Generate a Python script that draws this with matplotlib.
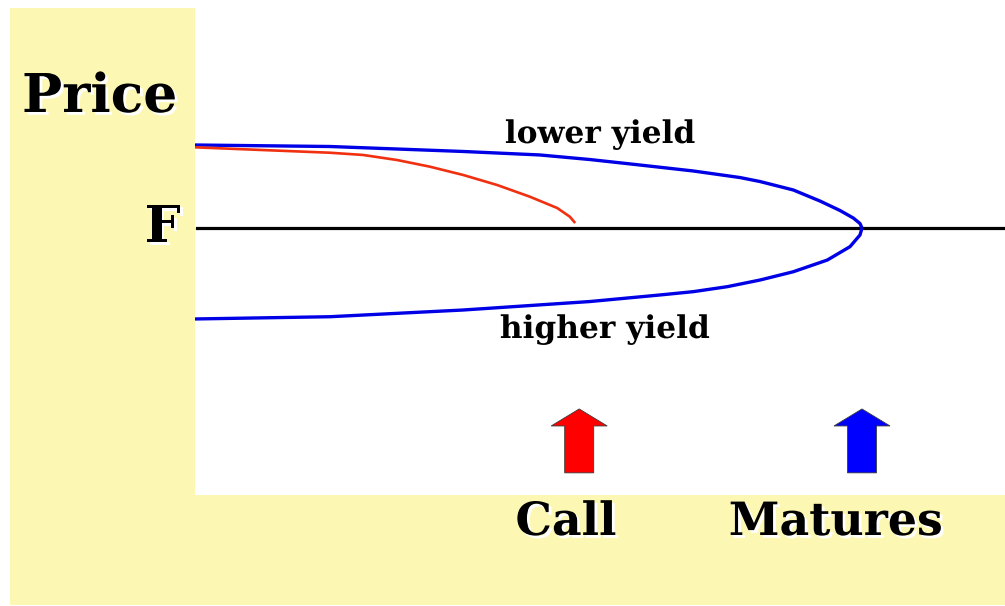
import matplotlib
matplotlib.use("Agg")
import matplotlib.pyplot as plt
import matplotlib.patheffects as pe
from matplotlib.patches import Rectangle, FancyArrow

# ---- data (time in years, price with face value F = 100) ----
face_value = 100.0
call_time = 5.76
maturity_time = 10.0

lower_t = [0.0, 2.02, 4.02, 5.17, 5.92, 6.67, 7.47, 8.17, 8.47, 8.97, 9.37, 9.67, 9.87, 9.97, 10.0]
lower_p = [110.0, 109.82, 109.22, 108.80, 108.25, 107.59, 106.87, 106.08, 105.60, 104.58,
           103.25, 102.11, 101.20, 100.54, 100.0]

higher_t = [0.0, 2.02, 4.02, 5.92, 6.97, 7.47, 7.98, 8.47, 8.97, 9.48, 9.82, 9.97, 10.0]
higher_p = [89.04, 89.31, 90.12, 91.14, 91.93, 92.33, 92.93, 93.73, 94.73, 96.14,
            97.75, 99.16, 100.0]

callable_t = [0.0, 2.02, 2.52, 3.03, 3.52, 4.02, 4.53, 5.02, 5.43, 5.62, 5.70]
callable_p = [109.72, 109.07, 108.80, 108.19, 107.39, 106.39, 105.18, 103.77, 102.41,
              101.36, 100.60]

labels = {"price": "Price", "face": "F", "lower": "lower yield",
          "higher": "higher yield", "call": "Call", "mature": "Matures"}

W, H = 1005, 606
fig = plt.figure(figsize=(W / 100, H / 100), dpi=100)
fig.patch.set_facecolor("white")

yellow = "#FCF8B4"
fig.patches.append(Rectangle((10 / W, 1 - 605 / H), 995 / W, 597 / H,
                             transform=fig.transFigure, facecolor=yellow,
                             edgecolor="none", zorder=-5))

ax = fig.add_axes([195 / W, 1 - 495 / H, 810 / W, 495 / H])
ax.set_zorder(1)
ax.set_facecolor("white")
ax.set_xlim(0, 810 / 66.7)
ax.set_ylim(100 - (495 - 228) / 8.3, 100 + 228 / 8.3)
for s in ax.spines.values():
    s.set_visible(False)
ax.set_xticks([])
ax.set_yticks([])

ax.axhline(face_value, xmin=0.003, xmax=1, color="black", lw=2.3, zorder=2)
ax.plot(lower_t, lower_p, color="#0000E6", lw=2.4, zorder=3,
        solid_capstyle="butt", solid_joinstyle="round")
ax.plot(higher_t, higher_p, color="#0000E6", lw=2.4, zorder=3,
        solid_capstyle="butt", solid_joinstyle="round")
ax.plot(callable_t, callable_p, color="#F03010", lw=1.9, zorder=4,
        solid_capstyle="butt", solid_joinstyle="round")

arrow_base = 70.5
arrow_len = 7.7
for t, c in [(call_time, "#FF0000"), (maturity_time, "#0000FF")]:
    ax.add_patch(FancyArrow(t, arrow_base, 0, arrow_len, width=0.435,
                            head_width=0.84, head_length=2.05,
                            length_includes_head=True, facecolor=c,
                            edgecolor="#3a3a3a", lw=0.6, zorder=5))

shadow = [pe.SimplePatchShadow(offset=(2, -2), shadow_rgbFace="white", alpha=1.0),
          pe.Normal()]
font = dict(family="DejaVu Serif", weight="bold", color="black",
            path_effects=shadow, zorder=10)

def px(x, y):
    return x / W, 1 - y / H

fig.text(*px(22, 112), labels["price"], fontsize=38.5, ha="left", va="baseline", **font)
fig.text(*px(181, 242), labels["face"], fontsize=37, ha="right", va="baseline", **font)
fig.text(*px(600, 143), labels["lower"], fontsize=22.5, ha="center", va="baseline", **font)
fig.text(*px(605, 338), labels["higher"], fontsize=22.5, ha="center", va="baseline", **font)
fig.text(*px(566, 535), labels["call"], fontsize=33, ha="center", va="baseline", **font)
fig.text(*px(836, 535), labels["mature"], fontsize=33, ha="center", va="baseline", **font)

fig.savefig("out.png", dpi=100)
